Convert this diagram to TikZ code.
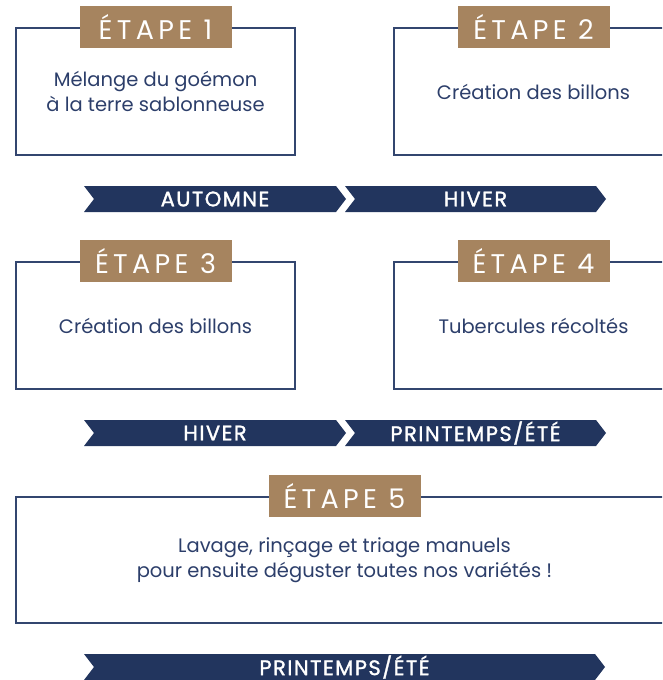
\documentclass[tikz,border=0pt]{standalone}
\usepackage{fontspec}
\setmainfont{Poppins}
\newfontfamily\etapefont[LetterSpace=16]{Poppins}
\newfontfamily\seasonfont[LetterSpace=7, FakeBold=1.5]{Poppins}
\usetikzlibrary{shapes.symbols}
\definecolor{navy}{HTML}{22355E}
\definecolor{boxnavy}{HTML}{33466F}
\definecolor{inknavy}{HTML}{2C3E6A}
\definecolor{sand}{HTML}{A6845F}

\begin{document}
\begin{tikzpicture}[
    x=1pt, y=-1pt,
    stepbox/.style={
        draw=boxnavy,
        line width=1.1pt,
        minimum height=127pt,
        align=center,
        text=inknavy,
        font=\fontsize{19.5}{25}\selectfont
    },
    narrow/.style={stepbox, minimum width=279pt},
    wide/.style={stepbox, minimum width=657pt, minimum height=126pt},
    tag/.style={
        fill=sand,
        text=white,
        minimum width=152pt,
        minimum height=42pt,
        inner sep=0pt,
        font=\etapefont\fontsize{27}{27}\selectfont
    },
    season/.style={
        signal, signal from=west, signal to=east,
        signal pointer angle=105,
        fill=navy,
        text=white,
        minimum height=26pt,
        inner sep=0pt,
        font=\seasonfont\fontsize{21}{21}\selectfont
    }
]
\clip (0,0) rectangle (662,680);

% etapes
\node[narrow] (b1) at (155.5,91.5) {Mélange du goémon\\à la terre sablonneuse};
\node[narrow] (b2) at (533.5,91.5) {Création des billons};
\node[narrow] (b3) at (155.5,325.5) {Création des billons};
\node[narrow] (b4) at (533.5,325.5) {Tubercules récoltés};
\node[wide] (b5) at (344.5,560) {Lavage, rinçage et triage manuels\\pour ensuite déguster toutes nos variétés !};

\node[tag] (t1) at (b1.north) {ÉTAPE 1};
\node[tag] (t2) at (b2.north) {ÉTAPE 2};
\node[tag] (t3) at (b3.north) {ÉTAPE 3};
\node[tag] (t4) at (b4.north) {ÉTAPE 4};
\node[tag] (t5) at (b5.north) {ÉTAPE 5};

% saisons
\node[season, minimum width=262pt] (a1) at (215,199) {AUTOMNE};
\node[season, minimum width=261pt] (a2) at (475.5,199) {HIVER};
\node[season, minimum width=262pt] (a3) at (215,433) {HIVER};
\node[season, minimum width=261pt] (a4) at (475.5,433) {PRINTEMPS/ÉTÉ};
\node[season, minimum width=521pt] (a5) at (344.5,667) {PRINTEMPS/ÉTÉ};
\end{tikzpicture}
\end{document}
